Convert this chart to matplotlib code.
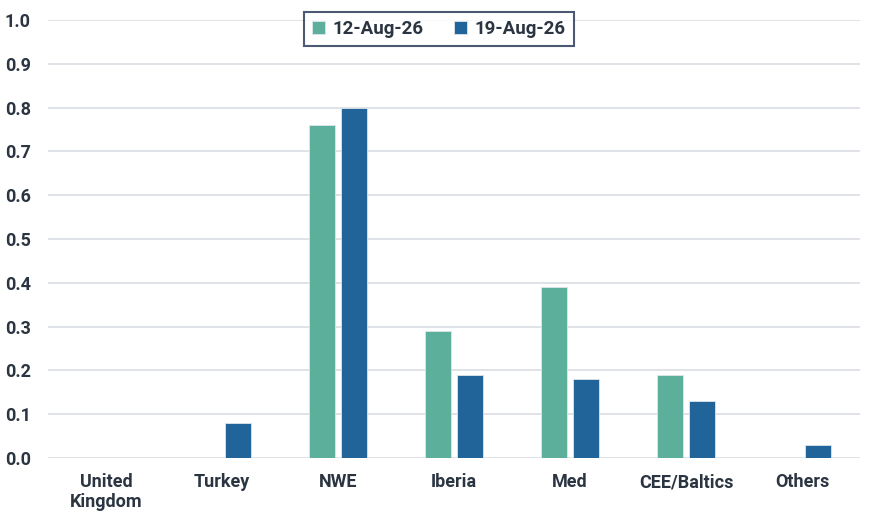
import numpy as np
import matplotlib.pyplot as plt

categories = ["United\nKingdom", "Turkey", "NWE", "Iberia", "Med", "CEE/Baltics", "Others"]
aug12 = [0.0, 0.0, 0.76, 0.29, 0.39, 0.19, 0.0]
aug19 = [0.0, 0.08, 0.80, 0.19, 0.18, 0.13, 0.03]
series_names = ["12-Aug-26", "19-Aug-26"]

plt.rcParams['font.family'] = ['Roboto', 'DejaVu Sans']
plt.rcParams['font.weight'] = 'bold'
txt = '#2b3542'

fig = plt.figure(figsize=(8.9, 5.17), dpi=100)
ax = fig.add_axes([48 / 890, 1 - 458 / 517, 812 / 890, 438 / 517])

x = np.arange(len(categories))
w = 0.225
ax.bar(x - 0.138, aug12, w, color='#5cb09b', edgecolor='#dfe6ea', linewidth=0.6,
       label=series_names[0], zorder=3)
ax.bar(x + 0.138, aug19, w, color='#216499', edgecolor='#dfe6ea', linewidth=0.6,
       label=series_names[1], zorder=3)

ax.set_xlim(-0.5, len(categories) - 0.5)
ax.set_ylim(0, 1.0)
yt = np.arange(0, 1.01, 0.1)
ax.set_yticks(yt)
ax.set_yticklabels([f"{v:.1f}" for v in yt])
ax.set_xticks(x)
ax.set_xticklabels(categories, linespacing=1.15)
ax.grid(axis='y', color='#d9dee4', linewidth=1.2, zorder=0)
for s in ax.spines.values():
    s.set_visible(False)
ax.tick_params(axis='both', length=0, labelsize=13, labelcolor=txt)
ax.tick_params(axis='x', pad=11)
for lab in ax.get_yticklabels():
    lab.set_horizontalalignment('left')
ax.tick_params(axis='y', pad=31)

leg = ax.legend(loc='upper center', bbox_to_anchor=(0.481, 1.0), ncol=2, frameon=True,
                fancybox=False, edgecolor='#1f2f4f', fontsize=13.5, handlelength=0.7,
                handleheight=0.7, handletextpad=0.4, columnspacing=1.6,
                borderpad=0.45, borderaxespad=-0.45)
leg.get_frame().set_linewidth(1.5)
for t in leg.get_texts():
    t.set_color(txt)

fig.savefig('out.png', dpi=100)
